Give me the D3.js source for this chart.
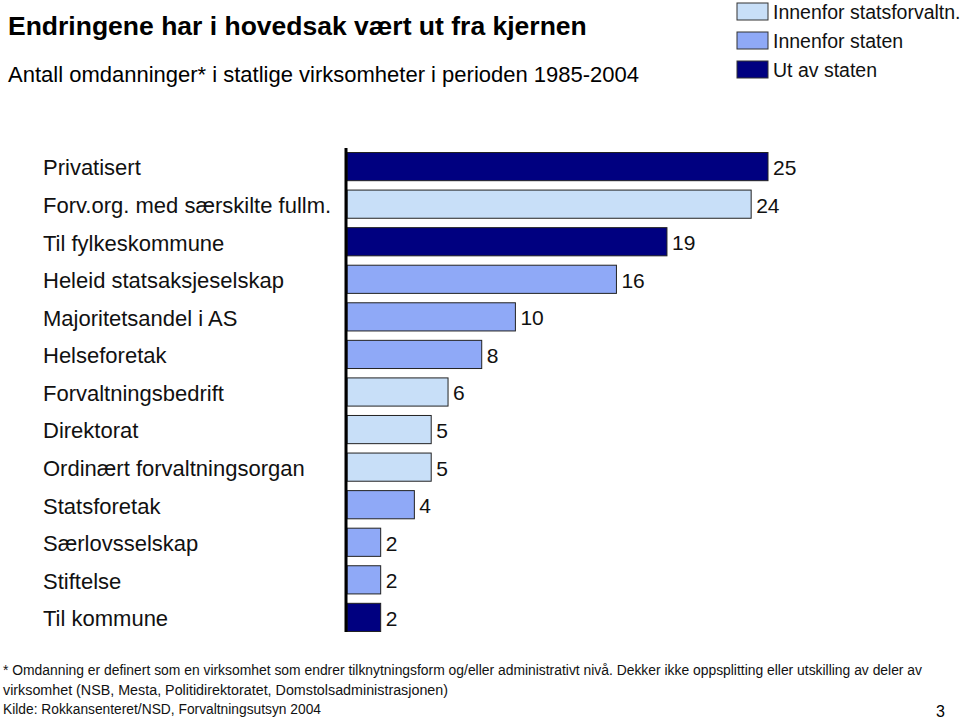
<!DOCTYPE html>
<html>
<head>
<meta charset="utf-8">
<script src="https://cdn.jsdelivr.net/npm/d3@7"></script>
<style>
  body { margin: 0; background: #fff; }
  svg { font-family: "Liberation Sans", Arial, sans-serif; }
</style>
</head>
<body>
<svg id="chart" width="960" height="722"></svg>
<script>
const categories = [
    "Privatisert", "Forv.org. med særskilte fullm.", "Til fylkeskommune",
    "Heleid statsaksjeselskap", "Majoritetsandel i AS", "Helseforetak",
    "Forvaltningsbedrift", "Direktorat", "Ordinært forvaltningsorgan",
    "Statsforetak", "Særlovsselskap", "Stiftelse", "Til kommune"
];
const values = [25, 24, 19, 16, 10, 8, 6, 5, 5, 4, 2, 2, 2];
const groups = [
    "Ut av staten", "Innenfor statsforvaltn.", "Ut av staten",
    "Innenfor staten", "Innenfor staten", "Innenfor staten",
    "Innenfor statsforvaltn.", "Innenfor statsforvaltn.", "Innenfor statsforvaltn.",
    "Innenfor staten", "Innenfor staten", "Innenfor staten", "Ut av staten"
];
const legendItems = ["Innenfor statsforvaltn.", "Innenfor staten", "Ut av staten"];
const footnotes = [
    "* Omdanning er definert som en virksomhet som endrer tilknytningsform og/eller administrativt nivå. Dekker ikke oppsplitting eller utskilling av deler av",
    "virksomhet (NSB, Mesta, Politidirektoratet, Domstolsadministrasjonen)",
    "Kilde: Rokkansenteret/NSD, Forvaltningsutsyn 2004"
];

const svg = d3.select("#chart");

const color = d3.scaleOrdinal()
    .domain(legendItems)
    .range(["#c8dff8", "#8fa9f7", "#000080"]);

const x = d3.scaleLinear().domain([0, 25]).range([347, 768]);
const y = d3.scaleBand().domain(categories).range([148, 636]).paddingInner(0.25).paddingOuter(0.12);

// titles
svg.append("text").attr("x", 8).attr("y", 35)
    .attr("font-size", 26.5).attr("font-weight", "bold").text("Endringene har i hovedsak vært ut fra kjernen");
svg.append("text").attr("x", 8).attr("y", 82)
    .attr("font-size", 22).text("Antall omdanninger* i statlige virksomheter i perioden 1985-2004");

// legend
const legend = svg.append("g").selectAll("g")
    .data(legendItems)
    .join("g")
    .attr("transform", (d, i) => `translate(737,${3 + i * 29})`);
legend.append("rect")
    .attr("width", 31).attr("height", 17)
    .attr("fill", d => color(d))
    .attr("stroke", "#333").attr("stroke-width", 1);
legend.append("text")
    .attr("x", 36).attr("y", 16)
    .attr("font-size", 19.5).attr("fill", "#111")
    .text(d => d);

// category labels
svg.append("g").selectAll("text")
    .data(categories)
    .join("text")
    .attr("x", 43)
    .attr("y", d => y(d) + y.bandwidth() / 2)
    .attr("dy", "0.4em")
    .attr("font-size", 22).attr("fill", "#111")
    .text(d => d);

// bars
svg.append("g").selectAll("rect")
    .data(categories)
    .join("rect")
    .attr("x", x(0))
    .attr("y", d => y(d))
    .attr("width", (d, i) => x(values[i]) - x(0))
    .attr("height", y.bandwidth())
    .attr("fill", (d, i) => color(groups[i]))
    .attr("stroke", "#222").attr("stroke-width", 1);

// value labels
svg.append("g").selectAll("text")
    .data(categories)
    .join("text")
    .attr("x", (d, i) => x(values[i]) + 5)
    .attr("y", d => y(d) + y.bandwidth() / 2)
    .attr("dy", "0.4em")
    .attr("font-size", 21).attr("fill", "#111")
    .text((d, i) => values[i]);

// axis line
svg.append("line")
    .attr("x1", 346).attr("x2", 346)
    .attr("y1", 148).attr("y2", 632)
    .attr("stroke", "#000").attr("stroke-width", 3);

// footnotes
const fnWidths = [919, 445, 318];
svg.append("g").selectAll("text")
    .data(footnotes)
    .join("text")
    .attr("x", 3)
    .attr("y", (d, i) => [675, 695, 714][i])
    .attr("font-size", 14).attr("fill", "#111")
    .attr("textLength", (d, i) => fnWidths[i])
    .attr("lengthAdjust", "spacingAndGlyphs")
    .text(d => d);

svg.append("text").attr("x", 936).attr("y", 717)
    .attr("font-size", 16).text("3");
</script>
</body>
</html>
